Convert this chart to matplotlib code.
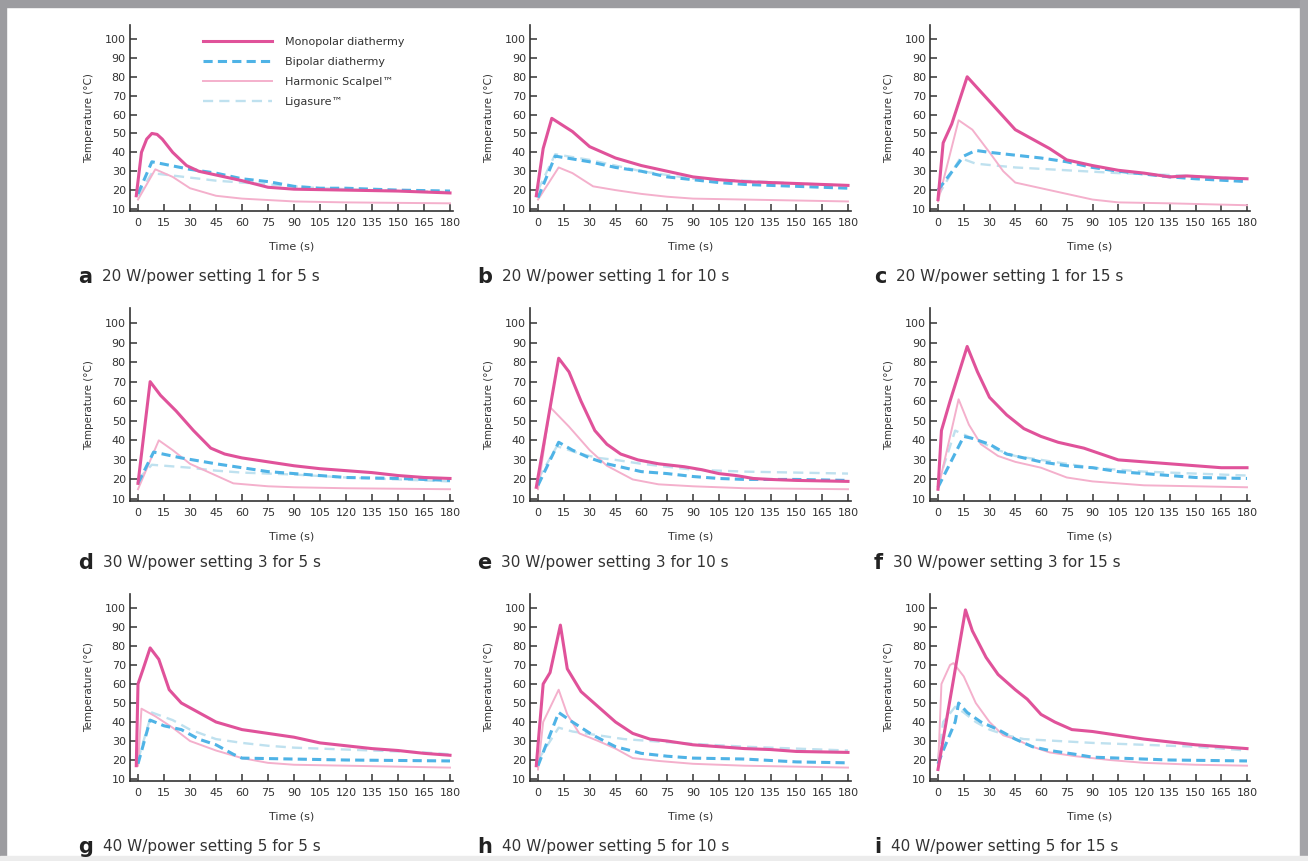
import numpy as np
import matplotlib
matplotlib.use("Agg")
import matplotlib.pyplot as plt
from matplotlib.patches import Rectangle

# series per panel: (time points, temperatures)
mono_t = {
    "a": [-1, 2, 5, 8, 11, 14, 20, 28, 35, 45, 60, 75, 90, 120, 150, 180],
    "b": [-1, 3, 8, 20, 30, 45, 60, 75, 90, 105, 120, 150, 180],
    "c": [0, 3, 8, 17, 25, 35, 45, 55, 65, 75, 90, 105, 120, 135, 145, 165, 180],
    "d": [0, 7, 13, 22, 32, 42, 50, 60, 75, 90, 105, 120, 135, 150, 165, 180],
    "e": [-1, 12, 18, 25, 33, 40, 48, 58, 70, 85, 95, 105, 115, 125, 135, 150, 180],
    "f": [0, 2, 7, 17, 23, 30, 40, 50, 60, 70, 85, 95, 105, 120, 135, 150, 165, 180],
    "g": [-1, 0, 3, 7, 12, 18, 25, 35, 45, 60, 75, 90, 105, 120, 135, 150, 165, 180],
    "h": [-1, 3, 7, 13, 17, 25, 35, 45, 55, 65, 75, 90, 105, 120, 135, 150, 180],
    "i": [0, 16, 20, 28, 35, 45, 52, 60, 68, 78, 90, 105, 120, 135, 150, 165, 180],
}
mono_v = {
    "a": [17, 40, 47, 50, 49.5, 47, 40, 33, 30, 28, 25, 21.5, 20.5, 20, 19.5, 18.5],
    "b": [17, 42, 58, 51, 43, 37, 33, 30, 27, 25.5, 24.5, 23.5, 22.5],
    "c": [15, 45, 55, 80, 72, 62, 52, 47, 42, 36, 33, 30.5, 29, 27, 27.5, 26.5, 26],
    "d": [18, 70, 63, 55, 45, 36, 33, 31, 29, 27, 25.5, 24.5, 23.5, 22, 21, 20.5],
    "e": [16, 82, 75, 60, 45, 38, 33, 30, 28, 26.5, 25, 23, 22, 20.5, 20, 19.5, 19],
    "f": [15, 45, 60, 88, 75, 62, 53, 46, 42, 39, 36, 33, 30, 29, 28, 27, 26, 26],
    "g": [17, 60, 68, 79, 73, 57, 50, 45, 40, 36, 34, 32, 29, 27.5, 26, 25, 23.5, 22.5],
    "h": [17, 60, 66, 91, 68, 56, 48, 40, 34, 31, 30, 28, 27, 26, 25.5, 24.5, 24],
    "i": [15, 99, 88, 74, 65, 57, 52, 44, 40, 36, 35, 33, 31, 29.5, 28, 27, 26],
}
bip_t = {
    "a": [0, 8, 30, 45, 60, 75, 90, 105, 120, 150, 180],
    "b": [0, 10, 30, 45, 60, 75, 90, 105, 120, 150, 180],
    "c": [0, 15, 22, 30, 45, 60, 75, 90, 105, 120, 135, 150, 180],
    "d": [0, 9, 25, 45, 60, 75, 90, 105, 120, 150, 180],
    "e": [0, 12, 20, 30, 40, 50, 60, 75, 90, 105, 120, 150, 180],
    "f": [0, 15, 20, 30, 40, 50, 60, 75, 90, 105, 120, 135, 150, 180],
    "g": [0, 7, 15, 25, 35, 45, 55, 60, 90, 120, 180],
    "h": [0, 12, 20, 32, 45, 60, 75, 90, 120, 150, 180],
    "i": [0, 3, 10, 12, 17, 25, 35, 45, 55, 65, 80, 90, 105, 135, 180],
}
bip_v = {
    "a": [18, 35, 31, 29, 26, 24.5, 22, 21, 21, 20, 19.5],
    "b": [16, 38, 35, 32, 30, 27, 25.5, 24, 23, 22, 21],
    "c": [20, 38, 41, 40, 38.5, 37, 35, 32, 30, 28.5, 27, 26, 24.5],
    "d": [18, 34, 31, 28, 26, 24, 23, 22, 21, 20.5, 19.5],
    "e": [17, 39, 35, 31, 28, 26, 24, 23, 21.5, 20.5, 20, 20, 19.5],
    "f": [16, 42, 41, 38, 33, 31, 29, 27, 26, 24, 23, 22, 21, 20.5],
    "g": [18, 41, 38, 36, 31, 28, 23, 21, 20.5, 20, 19.5],
    "h": [17, 45, 40, 33, 27, 23.5, 22, 21, 20.5, 19, 18.5],
    "i": [18, 25, 40, 50, 45, 40, 36, 31, 27, 25, 23, 21.5, 21, 20, 19.5],
}
harm_t = {
    "a": [0, 10, 20, 30, 45, 60, 90, 120, 180],
    "b": [0, 12, 20, 32, 45, 60, 75, 90, 120, 180],
    "c": [0, 12, 20, 30, 38, 45, 60, 75, 90, 105, 135, 180],
    "d": [0, 12, 20, 30, 45, 55, 75, 90, 120, 180],
    "e": [0, 7, 18, 30, 40, 55, 70, 90, 120, 180],
    "f": [0, 12, 18, 25, 35, 45, 60, 75, 90, 105, 120, 150, 180],
    "g": [0, 2, 10, 20, 30, 45, 60, 75, 90, 120, 180],
    "h": [0, 3, 12, 17, 24, 35, 45, 55, 70, 90, 120, 180],
    "i": [0, 2, 7, 9, 15, 22, 30, 38, 45, 55, 65, 80, 100, 120, 150, 180],
}
harm_v = {
    "a": [15, 31, 27, 21, 17, 15.5, 14, 13.5, 13],
    "b": [15, 32, 29, 22, 20, 18, 16.5, 15.5, 15, 14],
    "c": [14, 57, 52, 40, 30, 24, 21, 18, 15, 13.5, 13, 12],
    "d": [15, 40, 35, 28, 22, 18, 16.5, 16, 15.5, 15],
    "e": [15, 57, 47, 35, 27, 20, 17.5, 16.5, 15.5, 15],
    "f": [15, 61, 48, 38, 32, 29, 26, 21, 19, 18, 17, 16.5, 16],
    "g": [17, 47, 43, 37, 30, 25, 21, 18.5, 17.5, 17, 16],
    "h": [15, 40, 57, 44, 34, 30, 26, 21, 19.5, 18, 17, 16],
    "i": [15, 60, 70, 71, 64, 50, 40, 33, 31, 27, 24, 22, 20, 18.5, 17.5, 17],
}
liga_t = {
    "a": [0, 8, 45, 75, 105, 135, 180],
    "b": [0, 10, 30, 45, 60, 75, 90, 120, 150, 180],
    "c": [0, 13, 22, 45, 75, 105, 135, 180],
    "d": [0, 8, 30, 45, 60, 90, 120, 150, 180],
    "e": [0, 11, 25, 35, 45, 60, 75, 90, 105, 120, 150, 180],
    "f": [0, 10, 15, 25, 35, 45, 60, 75, 90, 105, 120, 150, 180],
    "g": [0, 8, 20, 30, 45, 60, 75, 90, 105, 135, 165, 180],
    "h": [0, 12, 20, 35, 50, 65, 90, 120, 150, 180],
    "i": [0, 3, 10, 15, 22, 30, 40, 50, 70, 90, 120, 150, 180],
}
liga_v = {
    "a": [17, 29, 25, 23, 21, 20, 19],
    "b": [20, 39, 36, 33, 30, 28, 26, 25, 23.5, 22.5],
    "c": [17, 37, 34, 32, 30.5, 29, 28, 26],
    "d": [20, 27.5, 26, 24.5, 23.5, 22.5, 21, 20, 19],
    "e": [20, 37, 33, 31, 30, 28, 26.5, 25, 24.5, 24, 23.5, 23],
    "f": [18, 45, 43, 39, 35, 32, 30, 28, 26, 25, 24, 23, 22],
    "g": [20, 45, 41, 36, 31, 29, 27.5, 26.5, 26, 25, 24, 23],
    "h": [20, 37, 35, 33, 31, 30, 28.5, 27, 26, 25],
    "i": [20, 40, 48, 45, 40, 36, 33, 31, 30, 29, 28, 27, 25],
}

captions = {
    "a": "20 W/power setting 1 for 5 s",
    "b": "20 W/power setting 1 for 10 s",
    "c": "20 W/power setting 1 for 15 s",
    "d": "30 W/power setting 3 for 5 s",
    "e": "30 W/power setting 3 for 10 s",
    "f": "30 W/power setting 3 for 15 s",
    "g": "40 W/power setting 5 for 5 s",
    "h": "40 W/power setting 5 for 10 s",
    "i": "40 W/power setting 5 for 15 s",
}
series_names = ["Monopolar diathermy", "Bipolar diathermy",
                "Harmonic Scalpel™", "Ligasure™"]
x_ticks = list(range(0, 181, 15))
y_ticks = list(range(10, 101, 10))

W, H = 1308, 861
fig = plt.figure(figsize=(W / 100, H / 100), dpi=100)
fig.patch.set_facecolor("white")

# page border (scanned look)
fig.patches.append(Rectangle((0, 1 - 7 / H), 1, 7 / H, transform=fig.transFigure,
                             color="#9c9ca0", zorder=-5))
fig.patches.append(Rectangle((0, 0), 6 / W, 1, transform=fig.transFigure,
                             color="#9c9ca0", zorder=-5))
fig.patches.append(Rectangle((1 - 8 / W, 0), 8 / W, 1, transform=fig.transFigure,
                             color="#a4a4a8", zorder=-5))
fig.patches.append(Rectangle((0, 0), 1, 5 / H, transform=fig.transFigure,
                             color="#ececec", zorder=-5))

mono_c = "#e0529a"
bip_c = "#4fb3e6"
harm_c = "#f4b0cc"
liga_c = "#bfe1ef"

# pixel anchors: x of t=0 and t=180, y of 10 and 100 degrees
cols = [(138, 450), (538, 848), (938, 1247)]
rows = [(209, 39), (499, 323), (779, 608)]
letter_x = [78, 477, 874]
cap_y = [277, 563, 847]
xlo, xhi = -4.6, 181.5
ylo, yhi = 9, 107.5

keys = "abcdefghi"
for idx, k in enumerate(keys):
    r, c = divmod(idx, 3)
    x0, x180 = cols[c]
    y10, y100 = rows[r]
    sx = (x180 - x0) / 180
    sy = (y10 - y100) / 90
    left = x0 + xlo * sx
    right = x0 + xhi * sx
    bottom = y10 + (10 - ylo) * sy
    top = y10 - (yhi - 10) * sy
    ax = fig.add_axes([left / W, 1 - bottom / H, (right - left) / W, (bottom - top) / H])
    ax.plot(liga_t[k], liga_v[k], color=liga_c, lw=1.7, dashes=(4.3, 2.6),
            label=series_names[3], zorder=2)
    ax.plot(harm_t[k], harm_v[k], color=harm_c, lw=1.4, label=series_names[2], zorder=3)
    ax.plot(bip_t[k], bip_v[k], color=bip_c, lw=2.2, dashes=(3.0, 1.7),
            label=series_names[1], zorder=4)
    ax.plot(mono_t[k], mono_v[k], color=mono_c, lw=2.2, label=series_names[0], zorder=5)
    ax.set_xlim(xlo, xhi)
    ax.set_ylim(ylo, yhi)
    ax.set_xticks(x_ticks)
    ax.set_yticks(y_ticks)
    ax.spines["top"].set_visible(False)
    ax.spines["right"].set_visible(False)
    for s in ("left", "bottom"):
        ax.spines[s].set_color("#333333")
        ax.spines[s].set_linewidth(1.2)
    ax.tick_params(direction="in", length=5, width=1.1, color="#333333",
                   labelsize=8, labelcolor="#333333", pad=5)
    ax.tick_params(axis="y", pad=3)
    ax.set_xlabel("Time (s)", fontsize=8, color="#333333", labelpad=10)
    ax.set_ylabel("Temperature (°C)", fontsize=7.5, color="#333333", labelpad=8)

    if k == "a":
        hs, ls = ax.get_legend_handles_labels()
        order = [3, 2, 1, 0]
        fig.legend([hs[i] for i in order], [ls[i] for i in order],
                   loc="upper left", bbox_to_anchor=(203 / W, 1 - 37 / H),
                   frameon=False, fontsize=8, handlelength=6.2, handletextpad=1.2,
                   labelspacing=0.9, borderpad=0, borderaxespad=0,
                   labelcolor="#333333")

    lt = fig.text(letter_x[c] / W, 1 - cap_y[r] / H, k, fontsize=15, fontweight="bold",
                  color="#222222", va="center", ha="left")
    ax.annotate(captions[k], xy=(1, 0.5), xycoords=lt, xytext=(7, 0),
                textcoords="offset points", fontsize=11, color="#333333",
                va="center", ha="left")

fig.savefig("out.png", dpi=100, facecolor="white")
